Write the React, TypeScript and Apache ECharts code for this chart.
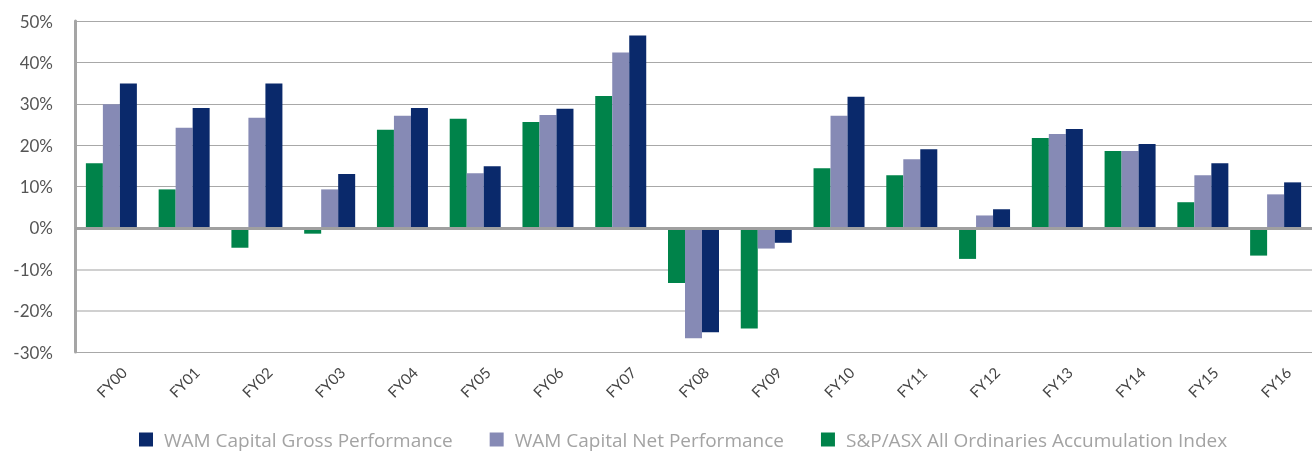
import React, { useEffect, useRef } from "react";
import * as echarts from "echarts";

const categories = ["FY00", "FY01", "FY02", "FY03", "FY04", "FY05", "FY06", "FY07", "FY08", "FY09", "FY10", "FY11", "FY12", "FY13", "FY14", "FY15", "FY16"];
const indexValues = [15.6, 9.3, -4.8, -1.4, 23.7, 26.4, 25.6, 31.9, -13.3, -24.3, 14.4, 12.7, -7.5, 21.7, 18.6, 6.2, -6.7];
const netValues = [29.9, 24.2, 26.6, 9.3, 27.1, 13.2, 27.3, 42.4, -26.7, -5.0, 27.1, 16.6, 3.0, 22.7, 18.6, 12.7, 8.1];
const grossValues = [34.9, 29.0, 34.9, 13.0, 29.0, 14.9, 28.8, 46.5, -25.2, -3.6, 31.7, 19.0, 4.5, 23.9, 20.3, 15.6, 11.0];

const seriesNames = {
  gross: "WAM Capital Gross Performance",
  net: "WAM Capital Net Performance",
  index: "S&P/ASX All Ordinaries Accumulation Index",
};

const FONT = "Lato, 'Open Sans', sans-serif";
const LEGEND_FONT = "'Open Sans', Lato, sans-serif";

export default function App() {
  const ref = useRef<HTMLDivElement>(null);
  useEffect(() => {
    if (!ref.current) return;
    const chart = echarts.init(ref.current, undefined, { renderer: "svg" });
    const dark = "#a8a8a8";
    const light = "#d0d0d0";
    const none = "rgba(0,0,0,0)";
    chart.setOption({
      animation: false,
      textStyle: { fontFamily: FONT },
      grid: { left: 75, right: -5, top: 21, bottom: 100, containLabel: false },
      legend: {
        data: [seriesNames.gross, seriesNames.net, seriesNames.index],
        left: 134,
        top: 425,
        itemWidth: 14,
        itemHeight: 14,
        itemGap: 37,
        icon: "rect",
        textStyle: { color: "#a3a3a3", fontSize: 19, fontFamily: LEGEND_FONT, padding: [0, 0, 0, 6] },
      },
      xAxis: {
        type: "category",
        data: categories,
        axisLine: { show: false },
        axisTick: { show: false },
        axisLabel: {
          rotate: 45,
          align: "center",
          verticalAlign: "middle",
          color: "#444",
          fontSize: 15,
          margin: 30,
          fontFamily: FONT,
        },
      },
      yAxis: [
        {
          type: "value",
          min: -30,
          max: 50,
          interval: 10,
          axisLine: { show: true, lineStyle: { color: "#a5a5a5", width: 3 } },
          axisTick: { show: false },
          axisLabel: { formatter: "{value}%", color: "#555", fontSize: 17, margin: 22, fontFamily: FONT },
          splitLine: {
            show: true,
            lineStyle: { width: 1, color: [dark, none, none, none, dark, dark, dark, dark, dark] },
          },
        },
        {
          type: "value",
          min: -30,
          max: 50,
          interval: 10,
          position: "left",
          axisLine: { show: false },
          axisTick: { show: false },
          axisLabel: { show: false },
          splitLine: {
            show: true,
            lineStyle: { width: 2, color: [none, light, light, none, none, none, none, none, none] },
          },
        },
      ],
      series: [
        {
          name: seriesNames.index,
          type: "bar",
          data: indexValues,
          barWidth: 17,
          barGap: "0%",
          itemStyle: { color: "#00834a" },
          markLine: {
            silent: true,
            symbol: "none",
            label: { show: false },
            lineStyle: { color: "#a0a0a0", width: 3, type: "solid" },
            data: [{ yAxis: 0 }],
          },
        },
        {
          name: seriesNames.net,
          type: "bar",
          data: netValues,
          barWidth: 17,
          barGap: "0%",
          itemStyle: { color: "#868ab5" },
        },
        {
          name: seriesNames.gross,
          type: "bar",
          data: grossValues,
          barWidth: 17,
          barGap: "0%",
          itemStyle: { color: "#0a296b" },
        },
      ],
    });
    return () => chart.dispose();
  }, []);
  return <div ref={ref} style={{ position: "fixed", left: 0, top: 0, width: 1312, height: 452 }} />;
}
